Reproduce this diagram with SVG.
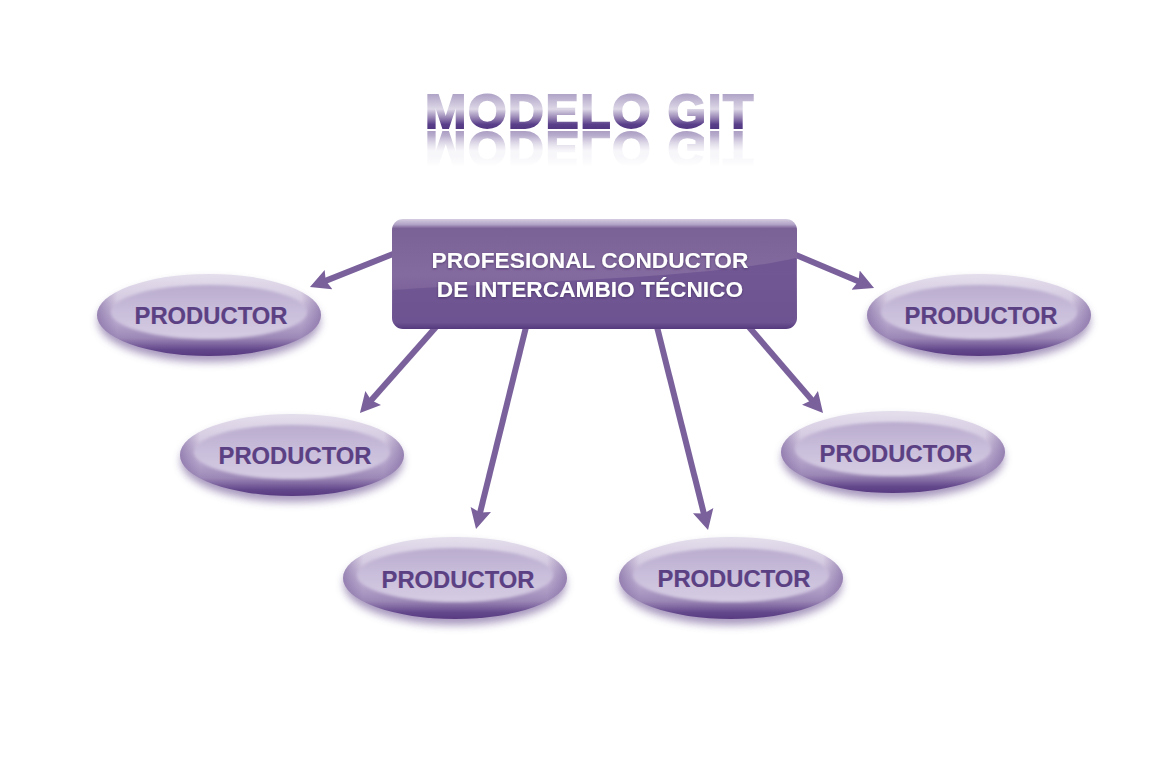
<svg xmlns="http://www.w3.org/2000/svg" width="1169" height="767" viewBox="0 0 1169 767">
<style>
text{font-family:"Liberation Sans",Arial,sans-serif;font-weight:700}
.lbl{font-size:23.8px;fill:#5b4183;stroke:#5b4183;stroke-width:.2;text-anchor:middle}
.box{font-size:22.7px;fill:#fff;text-anchor:middle;filter:url(#txtshadow)}
.conn{stroke:#7a619c;stroke-width:6;fill:none;marker-end:url(#arrow)}
.title{font-size:47.5px;letter-spacing:1.5px}
</style>
<defs>
<marker id="arrow" markerUnits="userSpaceOnUse" markerWidth="24" markerHeight="24" refX="8" refY="11" orient="auto">
<path d="M0 0.5L20 11L0 21.5L3 11Z" fill="#7a619c"/>
</marker>
<linearGradient id="outer" x1="0" y1="0" x2="0" y2="1">
<stop offset="0" stop-color="#e4deec"/><stop offset=".3" stop-color="#d6cce2"/><stop offset=".6" stop-color="#b5a4cb"/><stop offset=".78" stop-color="#9c88b6"/><stop offset=".92" stop-color="#64488c"/><stop offset="1" stop-color="#573a80"/>
</linearGradient>
<linearGradient id="edge" x1="0" y1="0" x2="1" y2="0">
<stop offset="0" stop-color="#7a619c" stop-opacity=".6"/><stop offset=".09" stop-color="#7a619c" stop-opacity="0"/><stop offset=".91" stop-color="#7a619c" stop-opacity="0"/><stop offset="1" stop-color="#7a619c" stop-opacity=".6"/>
</linearGradient>
<linearGradient id="inner" x1="0" y1="0" x2="0" y2="1">
<stop offset="0" stop-color="#b9abce"/><stop offset=".5" stop-color="#c9bedb"/><stop offset="1" stop-color="#d6cde3"/>
</linearGradient>
<linearGradient id="boxfill" x1="0" y1="0" x2="0" y2="1">
<stop offset="0" stop-color="#d5cde0"/><stop offset=".05" stop-color="#b0a2c6"/><stop offset=".085" stop-color="#7b6296"/><stop offset=".5" stop-color="#846b9f"/><stop offset=".94" stop-color="#6d5391"/><stop offset="1" stop-color="#553a7e"/>
</linearGradient>
<linearGradient id="titlefill" gradientUnits="userSpaceOnUse" x1="0" y1="92" x2="0" y2="130">
<stop offset="0" stop-color="#a99cc2"/><stop offset=".45" stop-color="#ddd8e7"/><stop offset=".68" stop-color="#9683b3"/><stop offset=".85" stop-color="#5a3f8a"/><stop offset="1" stop-color="#4f3580"/>
</linearGradient>
<linearGradient id="fade" gradientUnits="userSpaceOnUse" x1="0" y1="130" x2="0" y2="166">
<stop offset="0" stop-color="#fff" stop-opacity=".5"/><stop offset=".6" stop-color="#fff" stop-opacity=".22"/><stop offset="1" stop-color="#fff" stop-opacity="0"/>
</linearGradient>
<mask id="fademask" maskUnits="userSpaceOnUse" x="400" y="128" width="380" height="45"><rect x="400" y="128" width="380" height="45" fill="url(#fade)"/></mask>
<filter id="soft" x="-10%" y="-20%" width="120%" height="150%"><feGaussianBlur stdDeviation="4"/></filter>
<filter id="inblur" x="-10%" y="-20%" width="120%" height="140%"><feGaussianBlur stdDeviation="1.8"/></filter>
<filter id="tb" x="-5%" y="-20%" width="110%" height="140%"><feGaussianBlur stdDeviation=".6"/></filter>
<filter id="txtshadow" x="-10%" y="-30%" width="120%" height="170%"><feDropShadow dx="0" dy="1" stdDeviation="1" flood-color="#3c2a5c" flood-opacity=".7"/></filter>
<g id="oval">
<ellipse cx="0" cy="6" rx="111" ry="41" fill="#5b3f85" opacity=".55" filter="url(#soft)"/>
<ellipse cx="0" cy="0" rx="112" ry="41" fill="url(#outer)"/>
<ellipse cx="0" cy="0" rx="112" ry="41" fill="url(#edge)"/>
<ellipse cx="0" cy="-3" rx="98" ry="27" fill="url(#inner)" filter="url(#inblur)"/>
</g>
</defs>
<rect width="1169" height="767" fill="#fff"/>
<g id="title">
<text id="titletext" class="title" x="425" y="128" textLength="330" lengthAdjust="spacingAndGlyphs" fill="url(#titlefill)" stroke="url(#titlefill)" stroke-width="1.8" filter="url(#tb)">MODELO GIT</text>
<g mask="url(#fademask)"><use href="#titletext" transform="translate(0 260) scale(1 -1)"/></g>
</g>
<g id="connectors">
<line class="conn" x1="393" y1="254" x2="321.1" y2="282.6"/>
<line class="conn" x1="436" y1="327" x2="367.9" y2="404"/>
<line class="conn" x1="526" y1="327" x2="478.9" y2="517.3"/>
<line class="conn" x1="657" y1="327" x2="705.1" y2="518.4"/>
<line class="conn" x1="749" y1="327" x2="815.2" y2="403.9"/>
<line class="conn" x1="796" y1="255" x2="863" y2="283.3"/>
</g>
<g id="central">
<rect x="392" y="219" width="405" height="110" rx="11" fill="url(#boxfill)"/>
<path d="M393 290C500 282 700 280 796 258V312Q796 322 785 322H404Q393 322 393 312Z" fill="#6d5391" opacity=".85"/>
<text class="box" x="590" y="268">PROFESIONAL CONDUCTOR</text>
<text class="box" x="590" y="297">DE INTERCAMBIO TÉCNICO</text>
</g>
<g id="node1"><use href="#oval" transform="translate(209 315)"/><text class="lbl" x="211" y="324">PRODUCTOR</text></g>
<g id="node2"><use href="#oval" transform="translate(292 455)"/><text class="lbl" x="295" y="464">PRODUCTOR</text></g>
<g id="node3"><use href="#oval" transform="translate(455 578)"/><text class="lbl" x="458" y="588">PRODUCTOR</text></g>
<g id="node4"><use href="#oval" transform="translate(731 578)"/><text class="lbl" x="734" y="587">PRODUCTOR</text></g>
<g id="node5"><use href="#oval" transform="translate(893 452)"/><text class="lbl" x="896" y="462">PRODUCTOR</text></g>
<g id="node6"><use href="#oval" transform="translate(979 315)"/><text class="lbl" x="981" y="324">PRODUCTOR</text></g>
</svg>
